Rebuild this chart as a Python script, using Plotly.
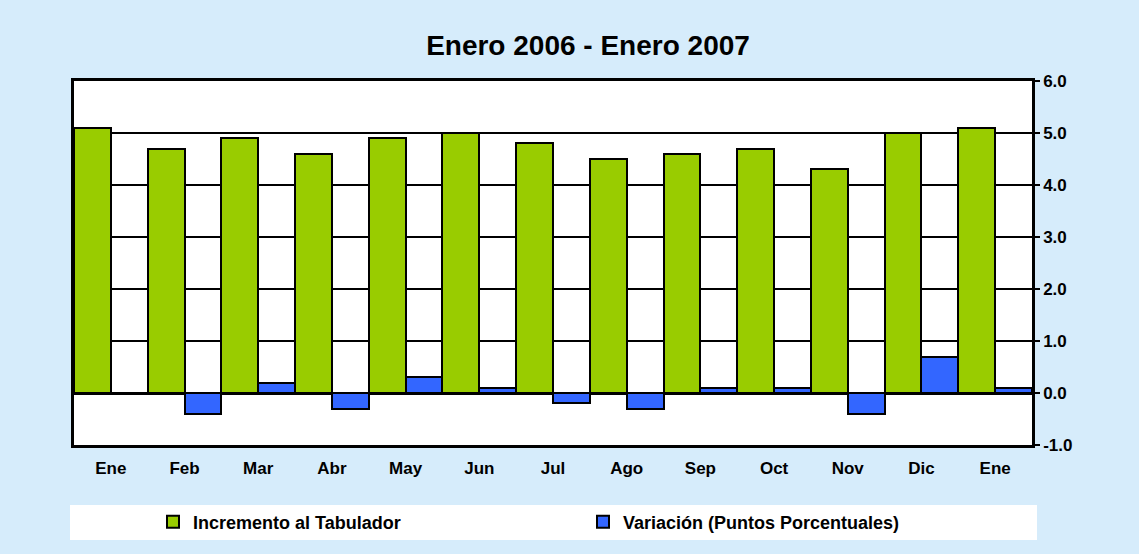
import plotly.graph_objects as go

months = ["Ene", "Feb", "Mar", "Abr", "May", "Jun", "Jul", "Ago", "Sep", "Oct", "Nov", "Dic", "Ene"]
incremento = [5.1, 4.7, 4.9, 4.6, 4.9, 5.0, 4.8, 4.5, 4.6, 4.7, 4.3, 5.0, 5.1]
variacion = [0.0, -0.4, 0.2, -0.3, 0.3, 0.1, -0.2, -0.3, 0.1, 0.1, -0.4, 0.7, 0.1]
y_ticks = [-1, 0, 1, 2, 3, 4, 5, 6]

xpos = list(range(len(months)))
FONT = "Liberation Sans, Arial, sans-serif"
BG = "#D6ECFB"

fig = go.Figure()
fig.add_trace(go.Bar(
    x=xpos, y=incremento, name="<b>Incremento al Tabulador</b>",
    marker=dict(color="#99CC00", line=dict(color="black", width=2)),
))
fig.add_trace(go.Bar(
    x=xpos, y=variacion, name="<b>Variación (Puntos Porcentuales)</b>",
    marker=dict(color="#3366FF", line=dict(color="black", width=2)),
))

W, H = 1139, 554
L, R, T, B = 74, 1032, 81, 445

fig.update_layout(
    width=W, height=H,
    paper_bgcolor=BG, plot_bgcolor="white",
    margin=dict(l=L, r=W - R, t=T, b=H - B, autoexpand=False),
    barmode="group", bargap=0, bargroupgap=0,
    font=dict(family=FONT, color="black", size=14),
    title=dict(text="<b>Enero 2006 - Enero 2007</b>", x=588 / W, xanchor="center",
               y=1 - 45 / H, yanchor="middle", font=dict(size=28, family=FONT)),
    showlegend=True,
    legend=dict(orientation="h", x=(153 - L) / (R - L), xanchor="left",
                y=-(522 - B) / (B - T), yanchor="middle",
                bgcolor="rgba(0,0,0,0)", entrywidth=385, entrywidthmode="pixels",
                font=dict(size=18, family=FONT), itemsizing="constant"),
    shapes=[dict(type="rect", xref="paper", yref="paper",
                 x0=(70 - L) / (R - L), x1=(1037 - L) / (R - L),
                 y0=-(540 - B) / (B - T), y1=-(505 - B) / (B - T),
                 fillcolor="white", line=dict(width=0), layer="below")],
)

fig.update_xaxes(
    tickmode="array", tickvals=xpos, ticktext=[f"<b>{m}</b>" for m in months],
    range=[-0.5, len(months) - 0.5], showgrid=False,
    showline=True, linecolor="black", linewidth=2.5, mirror=True,
    ticks="", ticklabelstandoff=6, tickfont=dict(size=17),
)
fig.update_yaxes(
    side="right", range=[-1, 6], tickmode="array", tickvals=y_ticks,
    ticktext=[f"<b>{v:.1f}</b>" for v in y_ticks],
    showgrid=True, gridcolor="black", gridwidth=2,
    zeroline=True, zerolinecolor="black", zerolinewidth=2.5,
    showline=True, linecolor="black", linewidth=2.5, mirror=True,
    ticks="outside", ticklen=5, tickwidth=2, tickcolor="black",
    tickfont=dict(size=17),
)

fig.write_html("out.html", config={"displayModeBar": False},
               post_script="document.body.style.margin='0';document.body.style.background='%s';" % BG)
